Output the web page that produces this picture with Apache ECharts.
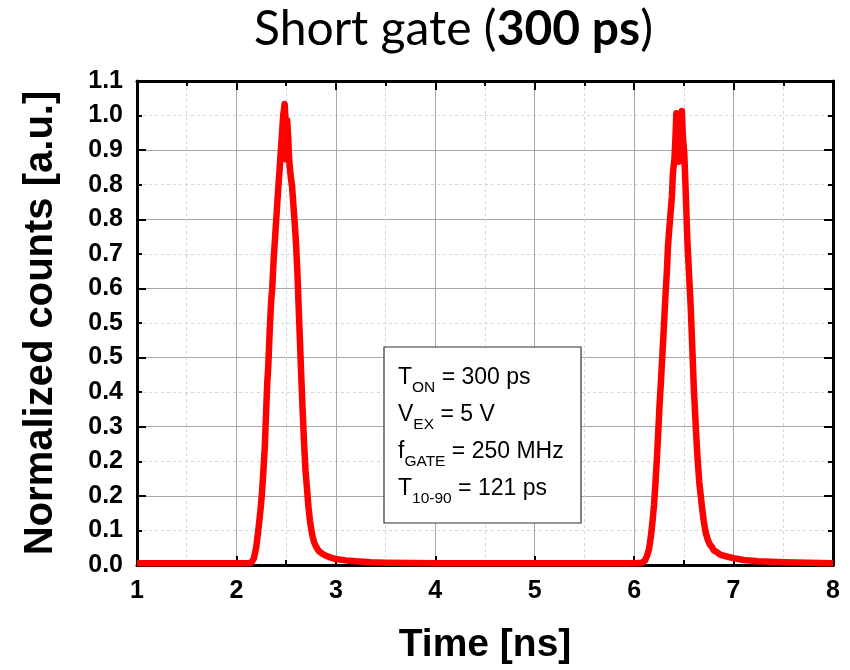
<!DOCTYPE html>
<html>
<head>
<meta charset="utf-8">
<title>Short gate (300 ps)</title>
<script src="https://cdn.jsdelivr.net/npm/echarts@6/dist/echarts.min.js"></script>
<style>
  html, body { margin: 0; padding: 0; background: #fff; }
  #chart { width: 850px; height: 670px; }
</style>
</head>
<body>
<div id="chart"></div>
<script>
// Gated detector response: normalized counts vs. time (two gate windows)
const timeNs = [
  1.00, 1.50, 2.00, 2.10, 2.15, 2.175, 2.20, 2.22, 2.24, 2.255, 2.27, 2.285, 2.30, 2.31, 2.32,
  2.335, 2.35, 2.36, 2.375, 2.39, 2.405, 2.42, 2.435, 2.45, 2.46, 2.47, 2.485, 2.495, 2.50, 2.51,
  2.52, 2.53, 2.545, 2.56, 2.575, 2.59, 2.60, 2.615, 2.625, 2.64, 2.65, 2.665, 2.68, 2.695, 2.71,
  2.725, 2.74, 2.76, 2.78, 2.80, 2.83, 2.86, 2.90, 2.95, 3.00, 3.10, 3.20, 3.35, 3.50, 4.00,
  5.00, 6.00, 6.08, 6.11, 6.13, 6.15, 6.17, 6.185, 6.20, 6.215, 6.23, 6.245, 6.255, 6.27, 6.285,
  6.30, 6.315, 6.33, 6.34, 6.35, 6.365, 6.38, 6.39, 6.405, 6.415, 6.425, 6.435, 6.45, 6.465, 6.48,
  6.49, 6.505, 6.52, 6.535, 6.55, 6.57, 6.585, 6.60, 6.62, 6.635, 6.655, 6.68, 6.70, 6.72, 6.74,
  6.76, 6.78, 6.80, 6.83, 6.87, 6.92, 7.00, 7.10, 7.25, 7.50, 7.75, 8.00
];
const normCounts = [
  0.004, 0.004, 0.004, 0.004, 0.005, 0.014, 0.040, 0.075, 0.115, 0.150, 0.200, 0.255, 0.340, 0.395, 0.430,
  0.510, 0.575, 0.600, 0.665, 0.715, 0.765, 0.815, 0.860, 0.910, 0.940, 0.975, 1.000, 0.960, 0.880, 0.965,
  0.930, 0.880, 0.845, 0.820, 0.775, 0.730, 0.695, 0.625, 0.565, 0.480, 0.420, 0.340, 0.265, 0.205, 0.165,
  0.125, 0.095, 0.068, 0.050, 0.040, 0.030, 0.025, 0.020, 0.016, 0.013, 0.010, 0.008, 0.006, 0.005, 0.004,
  0.004, 0.004, 0.005, 0.010, 0.020, 0.035, 0.065, 0.095, 0.130, 0.180, 0.235, 0.300, 0.345, 0.400, 0.460,
  0.520, 0.585, 0.640, 0.690, 0.720, 0.760, 0.800, 0.850, 0.880, 0.925, 0.980, 0.940, 0.875, 0.950, 0.985,
  0.930, 0.890, 0.800, 0.705, 0.640, 0.555, 0.470, 0.385, 0.300, 0.240, 0.180, 0.130, 0.095, 0.070, 0.055,
  0.045, 0.040, 0.032, 0.028, 0.022, 0.019, 0.015, 0.011, 0.008, 0.006, 0.005, 0.004
];

// Y tick labels (one decimal) at every 0.075 step of the axis
const yTickLabels = ['0.0', '0.1', '0.2', '0.2', '0.3', '0.4', '0.5', '0.5', '0.6', '0.7', '0.8', '0.8', '0.9', '1.0', '1.1'];
const yTickStep = 0.075;
const yTickValues = yTickLabels.map((_, i) => +(i * yTickStep).toFixed(3));

// Measurement conditions shown in the inset
const insetLines = [
  ['T', 'ON', ' = 300 ps'],
  ['V', 'EX', ' = 5 V'],
  ['f', 'GATE', ' = 250 MHz'],
  ['T', '10-90', ' = 121 ps']
];

const seriesData = timeNs.map((t, i) => [t, normCounts[i]]);

const AX_FONT = 'Liberation Sans, Arial, sans-serif';
const black = '#000';

const frameLine = { show: true, onZero: false, lineStyle: { color: black, width: 3 } };
const majorTick = { show: true, inside: true, length: 9, lineStyle: { color: black, width: 2 } };
const minorTick = { show: true, splitNumber: 2, length: 5, lineStyle: { color: black, width: 2 } };

const chart = echarts.init(document.getElementById('chart'), null, { renderer: 'canvas' });

chart.setOption({
  backgroundColor: '#fff',
  animation: false,
  title: {
    text: '{r|Short gate (}{b|300 ps}{r|)}',
    left: 249,
    top: 1,
    textStyle: {
      rich: {
        r: { fontFamily: 'Lato, sans-serif', fontSize: 48, fontWeight: 'normal', color: black },
        b: { fontFamily: 'Lato, sans-serif', fontSize: 48, fontWeight: 'bold', color: black }
      }
    }
  },
  grid: { left: 137, right: 17, top: 81, bottom: 103, containLabel: false },
  xAxis: [
    {
      type: 'value', position: 'bottom', min: 1, max: 8, interval: 1,
      axisLine: frameLine,
      axisTick: majorTick,
      minorTick: Object.assign({}, minorTick),
      axisLabel: { color: black, fontSize: 25, fontWeight: 'bold', fontFamily: AX_FONT, margin: 14 },
      splitLine: { show: true, lineStyle: { color: '#a8a8a8', width: 1 } },
      minorSplitLine: { show: true, lineStyle: { color: '#d6d6d6', width: 1, type: [3, 3] } },
      name: 'Time [ns]', nameLocation: 'middle', nameGap: 61,
      nameTextStyle: { color: black, fontSize: 39, fontWeight: 'bold', fontFamily: AX_FONT }
    },
    {
      type: 'value', position: 'top', min: 1, max: 8, interval: 1,
      axisLine: frameLine,
      axisTick: majorTick,
      minorTick: Object.assign({}, minorTick),
      axisLabel: { show: false },
      splitLine: { show: false }
    }
  ],
  yAxis: [
    {
      type: 'value', position: 'left', min: 0, max: 1.05, interval: 0.15,
      axisLine: frameLine,
      axisTick: majorTick,
      minorTick: Object.assign({}, minorTick),
      axisLabel: {
        customValues: yTickValues,
        color: black, fontSize: 25, fontWeight: 'bold', fontFamily: AX_FONT, margin: 14,
        formatter: (v) => yTickLabels[Math.round(v / yTickStep)]
      },
      splitLine: { show: true, lineStyle: { color: '#a8a8a8', width: 1 } },
      minorSplitLine: { show: true, lineStyle: { color: '#d6d6d6', width: 1, type: [3, 3] } },
      name: 'Normalized counts [a.u.]', nameLocation: 'middle', nameGap: 76,
      nameTextStyle: { color: black, fontSize: 40, fontWeight: 'bold', fontFamily: AX_FONT }
    },
    {
      type: 'value', position: 'right', min: 0, max: 1.05, interval: 0.15,
      axisLine: frameLine,
      axisTick: majorTick,
      minorTick: Object.assign({}, minorTick),
      axisLabel: { show: false },
      splitLine: { show: false }
    }
  ],
  series: [
    {
      type: 'line',
      xAxisIndex: 0,
      yAxisIndex: 0,
      data: seriesData,
      showSymbol: false,
      symbol: 'none',
      smooth: false,
      clip: true,
      lineStyle: { color: '#ff0000', width: 6.5, join: 'round' },
      z: 3
    }
  ],
  graphic: [
    {
      type: 'rect',
      shape: { x: 384, y: 347, width: 197, height: 176 },
      style: { fill: '#fff', stroke: '#333', lineWidth: 1.2 },
      z: 10
    },
    {
      type: 'text',
      x: 398,
      y: 359,
      z: 11,
      style: {
        text: insetLines.map(l => '{m|' + l[0] + '}{s|' + l[1] + '}{m|' + l[2] + '}').join('\n'),
        rich: {
          m: { fontFamily: AX_FONT, fontSize: 23, color: black, lineHeight: 37, verticalAlign: 'middle' },
          s: { fontFamily: AX_FONT, fontSize: 15.5, color: black, lineHeight: 0, verticalAlign: 'bottom' }
        }
      }
    }
  ]
});
</script>
</body>
</html>
